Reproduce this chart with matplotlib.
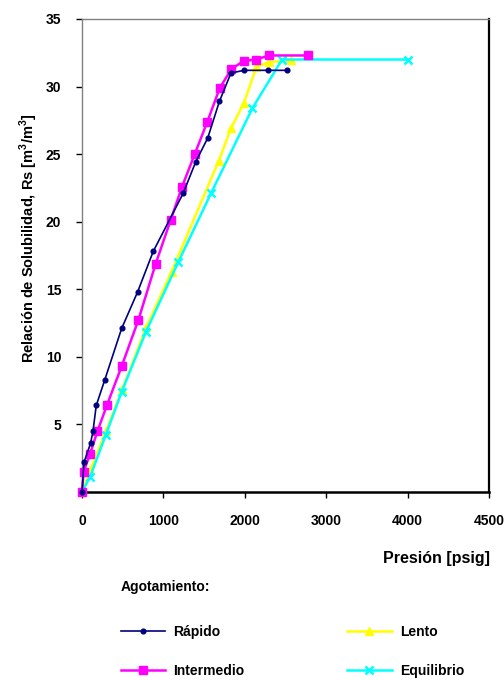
import matplotlib.pyplot as plt

plt.rcParams['font.family'] = ['Liberation Sans', 'DejaVu Sans']
plt.rcParams['mathtext.fontset'] = 'custom'
plt.rcParams['mathtext.rm'] = 'Liberation Sans'
plt.rcParams['mathtext.bf'] = 'Liberation Sans:bold'

# Rs vs presion for each depletion rate
rapido_p = [0, 25, 105, 135, 175, 280, 487, 683, 875, 1243, 1395, 1545, 1688, 1830, 1990, 2290, 2515]
rapido_rs = [0, 2.2, 3.6, 4.5, 6.4, 8.3, 12.1, 14.8, 17.8, 22.1, 24.4, 26.2, 28.9, 31.0, 31.2, 31.2, 31.2]

intermedio_p = [0, 20, 98, 190, 305, 487, 691, 906, 1088, 1230, 1385, 1540, 1693, 1836, 1988, 2143, 2294, 2781]
intermedio_rs = [0, 1.5, 2.8, 4.5, 6.4, 9.3, 12.7, 16.9, 20.1, 22.6, 25.0, 27.4, 29.9, 31.3, 31.9, 32.0, 32.3, 32.3]

lento_p = [0, 100, 295, 495, 790, 1100, 1680, 1830, 1990, 2143, 2294, 2573]
lento_rs = [0, 1.6, 4.5, 7.6, 12.2, 16.3, 24.5, 26.9, 28.8, 31.45, 31.8, 31.95]

equilibrio_p = [0, 98, 291, 487, 785, 1182, 1585, 2094, 2458, 4000]
equilibrio_rs = [0, 1.1, 4.2, 7.4, 11.85, 17.0, 22.1, 28.4, 32.0, 32.0]

x_ticks = [0, 1000, 2000, 3000, 4000, 5000]
x_ticklabels = ['0', '1000', '2000', '3000', '4000', '4500']
y_ticks = [5, 10, 15, 20, 25, 30, 35]

fig = plt.figure(figsize=(5.04, 6.8), dpi=100)
ax = fig.add_axes([0.1627, 0.2765, 0.8075, 0.6956])

l1, = ax.plot(rapido_p, rapido_rs, color='#000080', marker='o', ms=3.4, lw=1.2,
              clip_on=False, zorder=5, label='Rápido')
l2, = ax.plot(intermedio_p, intermedio_rs, color='#FF00FF', marker='s', ms=5.5, lw=1.8,
              clip_on=False, zorder=4, label='Intermedio')
l3, = ax.plot(lento_p, lento_rs, color='#FFFF00', marker='^', ms=6, lw=1.8,
              clip_on=False, zorder=3, label='Lento')
l4, = ax.plot(equilibrio_p, equilibrio_rs, color='#00FFFF', marker='x', ms=6, mew=1.8, lw=1.8,
              clip_on=False, zorder=3.5, label='Equilibrio')

ax.set_xlim(0, 5000)
ax.set_ylim(0, 35)
ax.set_xticks(x_ticks)
ax.set_xticklabels(x_ticklabels)
ax.set_yticks(y_ticks)
ax.tick_params(axis='both', direction='out', length=4, width=1, labelsize=10, colors='black')
ax.tick_params(axis='x', pad=12)
ax.tick_params(axis='y', pad=11)
for lab in ax.get_xticklabels() + ax.get_yticklabels():
    lab.set_fontweight('bold')

ax.spines['left'].set_color('#808080')
ax.spines['top'].set_color('#808080')
ax.spines['left'].set_linewidth(1.0)
ax.spines['top'].set_linewidth(1.0)
ax.spines['bottom'].set_color('black')
ax.spines['bottom'].set_linewidth(1.8)
ax.spines['right'].set_color('black')
ax.spines['right'].set_linewidth(1.6)

ax.set_ylabel(r'Relación de Solubilidad, Rs [m$^{\mathbf{3}}$/m$^{\mathbf{3}}$]',
              fontsize=10.5, fontweight='bold')
ax.yaxis.set_label_coords(-0.103, 0.537)
fig.text(490 / 504, 1 - 558 / 680, 'Presión [psig]', fontsize=11.5, fontweight='bold',
         ha='right', va='center')

leg = fig.legend([l1, l2, l3, l4], ['Rápido', 'Intermedio', 'Lento', 'Equilibrio'],
                 ncol=2, loc='upper left', bbox_to_anchor=(108 / 504, 1 - 568 / 680),
                 frameon=False, title='Agotamiento:', alignment='left',
                 prop={'weight': 'bold', 'size': 10}, title_fontproperties={'weight': 'bold', 'size': 10},
                 handlelength=3.2, labelspacing=1.8, columnspacing=7.4, handletextpad=0.6)
leg._legend_box.sep = 22

fig.savefig('out.png', dpi=100)
